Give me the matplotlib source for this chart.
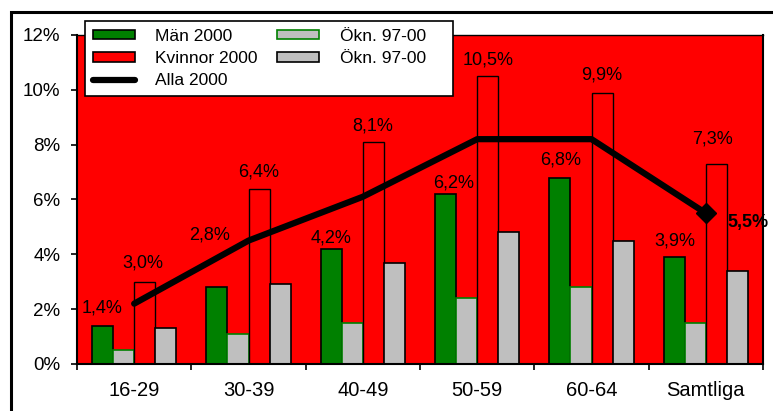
import numpy as np
import matplotlib.pyplot as plt
from matplotlib.patches import Rectangle
from matplotlib.lines import Line2D

plt.rcParams['font.family'] = ['Liberation Sans', 'DejaVu Sans']

# ----------------------------
# Data
# ----------------------------
categories = ['16-29', '30-39', '40-49', '50-59', '60-64', 'Samtliga']

man_2000 = [1.4, 2.8, 4.2, 6.2, 6.8, 3.9]
man_okn = [0.5, 1.1, 1.5, 2.4, 2.8, 1.5]
kvinnor_2000 = [3.0, 6.4, 8.1, 10.5, 9.9, 7.3]
kvinnor_okn = [1.3, 2.9, 3.7, 4.8, 4.5, 3.4]
alla_2000 = [2.2, 4.5, 6.1, 8.2, 8.2, 5.5]

y_ticks = [0, 2, 4, 6, 8, 10, 12]

# label placement (data coords), picked by eye from the original
man_label_xy = [(-0.28, 2.04), (0.66, 4.70), (1.72, 4.60), (2.79, 6.60), (3.73, 7.44), (4.73, 4.50)]
kv_label_xy = [(0.08, 3.69), (1.09, 7.01), (2.09, 8.69), (3.10, 11.09), (4.09, 10.54), (5.06, 8.21)]
alla_label_xy = (5.37, 5.15)

def pct(v):
    return f'{v:.1f}%'.replace('.', ',')

# ----------------------------
# Figure
# ----------------------------
fig = plt.figure(figsize=(7.73, 4.11), dpi=100)
ax = fig.add_axes([0.0996, 0.1144, 0.8875, 0.8005])
ax.set_facecolor('#FF0000')

x = np.arange(len(categories))
w = 0.184

ax.bar(x - 1.5 * w, man_2000, w, color='#008000', edgecolor='black', linewidth=1.2, zorder=2)
ax.bar(x - 0.5 * w, man_okn, w, color='#BFBFBF', edgecolor='#008000', linewidth=1.2, zorder=2)
ax.bar(x + 0.5 * w, kvinnor_2000, w, color='#FF0000', edgecolor='black', linewidth=1.0, zorder=2)
ax.bar(x + 1.5 * w, kvinnor_okn, w, color='#BFBFBF', edgecolor='black', linewidth=1.2, zorder=2)

ax.plot(x, alla_2000, color='black', linewidth=4.5, solid_capstyle='round',
        marker='D', markersize=10, markevery=[len(x) - 1], zorder=3)

for (lx, ly), v in zip(man_label_xy, man_2000):
    ax.text(lx, ly, pct(v), ha='center', va='center', fontsize=13)
for (lx, ly), v in zip(kv_label_xy, kvinnor_2000):
    ax.text(lx, ly, pct(v), ha='center', va='center', fontsize=13)
ax.text(alla_label_xy[0], alla_label_xy[1], pct(alla_2000[-1]), ha='center', va='center',
        fontsize=13, fontweight='bold')

ax.set_xlim(-0.5, len(categories) - 0.5)
ax.set_ylim(0, 12)
ax.set_yticks(y_ticks)
ax.set_yticklabels([f'{t}%' for t in y_ticks], fontsize=13.5)
ax.tick_params(axis='y', length=4, width=1.2, pad=8)

ax.set_xticks(np.arange(-0.5, len(categories), 1))
ax.set_xticklabels([])
ax.set_xticks(x, minor=True)
ax.set_xticklabels(categories, minor=True, fontsize=14.5)
ax.tick_params(axis='x', which='major', length=4, width=1.2)
ax.tick_params(axis='x', which='minor', length=0, pad=12)

for side in ['left', 'bottom', 'right']:
    ax.spines[side].set_linewidth(1.5)
ax.spines['top'].set_linewidth(1.0)

# legend
handles = [
    Rectangle((0, 0), 1, 1, facecolor='#008000', edgecolor='black', linewidth=1.2),
    Rectangle((0, 0), 1, 1, facecolor='#FF0000', edgecolor='black', linewidth=1.2),
    Line2D([], [], color='black', linewidth=4.5, solid_capstyle='round'),
    Rectangle((0, 0), 1, 1, facecolor='#BFBFBF', edgecolor='#008000', linewidth=1.2),
    Rectangle((0, 0), 1, 1, facecolor='#BFBFBF', edgecolor='black', linewidth=1.2),
]
labels = ['Män 2000', 'Kvinnor 2000', 'Alla 2000', 'Ökn. 97-00    ', 'Ökn. 97-00    ']
leg = fig.legend(handles, labels, ncol=2, loc='upper left',
                 bbox_to_anchor=(0.110, 0.769, 0.476, 0.180), bbox_transform=fig.transFigure,
                 mode='expand', borderaxespad=0, fontsize=12.5, frameon=True, fancybox=False,
                 framealpha=1, handlelength=2.4, handleheight=0.45, handletextpad=1.2,
                 labelspacing=0.42, borderpad=0.45)
leg.get_frame().set_edgecolor('black')
leg.get_frame().set_linewidth(1.2)
leg.set_zorder(5)

# outer frame
fig.patches.append(Rectangle((11 / 773, -0.1), 1.2, 0.1 + 1 - 12.5 / 411, transform=fig.transFigure,
                             fill=False, edgecolor='black', linewidth=2.2))

fig.savefig('out.png', dpi=100)
